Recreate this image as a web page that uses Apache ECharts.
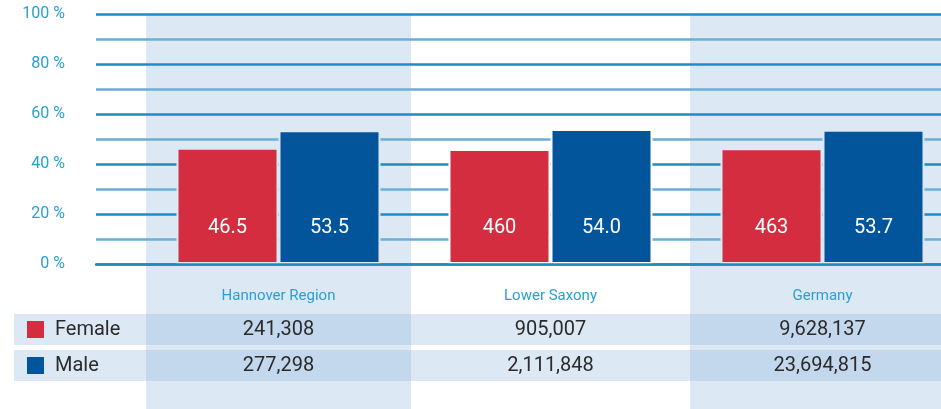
<!DOCTYPE html>
<html>
<head>
<meta charset="utf-8">
<script src="https://cdn.jsdelivr.net/npm/echarts@6/dist/echarts.min.js"></script>
<style>
html, body { margin: 0; padding: 0; background: #fff; }
#chart { width: 941px; height: 409px; }
</style>
</head>
<body>
<div id="chart"></div>
<script>
// data
var categories = ['Hannover Region', 'Lower Saxony', 'Germany'];
var femaleShare = [46.5, 46.0, 46.3];
var maleShare = [53.5, 54.0, 53.7];
// labels as printed in the bars
var femaleLabels = ['46.5', '460', '463'];
var maleLabels = ['53.5', '54.0', '53.7'];
var femaleCount = [241308, 905007, 9628137];
var maleCount = [277298, 2111848, 23694815];
var rows = ['Female', 'Male'];
var shaded = [true, false, true];
var yTicks = [0, 20, 40, 60, 80, 100];

var RED = '#d42d3f';
var BLUE = '#02559b';
var SHADE = '#dde8f5';
var FONT = 'Roboto';

function fmt(n) {
  return n.toLocaleString('en-US');
}

var chart = echarts.init(document.getElementById('chart'));

function barData(values) {
  return values.map(function (v, i) {
    return {
      value: v,
      itemStyle: { borderColor: shaded[i] ? SHADE : '#fff' }
    };
  });
}

chart.setOption({
  animation: false,
  textStyle: { fontFamily: FONT },
  grid: [
    { left: 142.5, width: 816, top: 14, height: 250, outerBoundsMode: 'none' },   // bars
    { left: 96, right: 0, top: 14, height: 250, outerBoundsMode: 'none' },        // lines + y labels
    { left: 142.5, width: 816, top: 311.5, height: 72, outerBoundsMode: 'none' }  // table
  ],
  xAxis: [
    {
      gridIndex: 0, type: 'category', data: categories,
      axisLine: { show: false }, axisTick: { show: false },
      axisLabel: { margin: 25, fontSize: 15, color: '#2a9fd1', fontFamily: FONT }
    },
    {
      gridIndex: 1, type: 'value', min: 0, max: 1, z: 5,
      axisLine: { show: true, onZero: false, lineStyle: { color: '#1a8cc6', width: 2.5 } },
      axisTick: { show: false }, axisLabel: { show: false }, splitLine: { show: false }
    },
    {
      gridIndex: 2, type: 'category', data: categories,
      axisLine: { show: false }, axisTick: { show: false }, axisLabel: { show: false }
    }
  ],
  yAxis: [
    {
      gridIndex: 0, type: 'value', min: 0, max: 100,
      axisLine: { show: false }, axisTick: { show: false },
      axisLabel: { show: false }, splitLine: { show: false }
    },
    {
      gridIndex: 1, type: 'value', min: 0, max: 100, interval: 10, z: 1,
      axisLine: { show: false }, axisTick: { show: false },
      axisLabel: {
        margin: 31, fontSize: 16, color: '#2a9fd1', fontFamily: FONT,
        padding: [4, 0, 0, 0],
        formatter: function (v) {
          return yTicks.indexOf(v) >= 0 ? v + ' %' : '';
        }
      },
      splitLine: { lineStyle: { color: ['#1a8cc6', '#6aaed8'], width: 2.5 } }
    },
    {
      gridIndex: 2, type: 'category', data: rows, inverse: true,
      axisLine: { show: false }, axisTick: { show: false }, axisLabel: { show: false }
    }
  ],
  series: [
    {
      // light column shading behind chart and table
      type: 'custom', xAxisIndex: 0, yAxisIndex: 0, z: 0, clip: false, silent: true,
      data: categories.map(function (c, i) { return [i, 100]; }).filter(function (d, i) { return shaded[i]; }),
      renderItem: function (params, api) {
        var p = api.coord([api.value(0), api.value(1)]);
        var w = api.size([1, 0])[0] * 0.974;
        return {
          type: 'rect',
          shape: { x: p[0] - w / 2, y: p[1], width: w, height: api.getHeight() - p[1] },
          style: { fill: SHADE }
        };
      }
    },
    {
      // table row bands
      type: 'custom', xAxisIndex: 2, yAxisIndex: 2, z: 0, clip: false, silent: true,
      data: rows.map(function (r, i) { return [0, i]; }),
      renderItem: function (params, api) {
        var p = api.coord([0, api.value(1)]);
        var h = api.size([0, 1])[1] - 5;
        return {
          type: 'rect',
          shape: { x: 14, y: p[1] - h / 2, width: api.getWidth() - 14, height: h },
          style: { fill: 'rgba(120,165,215,0.25)' }
        };
      }
    },
    {
      name: 'Female', type: 'bar', xAxisIndex: 0, yAxisIndex: 0,
      barWidth: 102, barGap: '0%',
      data: barData(femaleShare),
      itemStyle: { color: RED, borderWidth: 2 },
      label: {
        show: true, position: 'insideBottom', distance: 26,
        color: '#fff', fontSize: 20, fontFamily: FONT,
        formatter: function (p) { return femaleLabels[p.dataIndex]; }
      }
    },
    {
      name: 'Male', type: 'bar', xAxisIndex: 0, yAxisIndex: 0,
      barWidth: 102, barGap: '0%',
      data: barData(maleShare),
      itemStyle: { color: BLUE, borderWidth: 2 },
      label: {
        show: true, position: 'insideBottom', distance: 26,
        color: '#fff', fontSize: 20, fontFamily: FONT,
        formatter: function (p) { return maleLabels[p.dataIndex]; }
      }
    },
    {
      // table numbers
      type: 'custom', xAxisIndex: 2, yAxisIndex: 2, z: 3, clip: false, silent: true,
      data: [].concat(
        categories.map(function (c, i) { return [i, 0]; }),
        categories.map(function (c, i) { return [i, 1]; })
      ),
      renderItem: function (params, api) {
        var ci = api.value(0), ri = api.value(1);
        var p = api.coord([ci, ri]);
        var n = ri === 0 ? femaleCount[ci] : maleCount[ci];
        return {
          type: 'text',
          style: {
            x: p[0], y: p[1], text: fmt(n), fill: '#2b2b2b',
            font: '20px ' + FONT, textAlign: 'center', textVerticalAlign: 'middle'
          }
        };
      }
    },
    {
      // row legend: colour square + name
      type: 'custom', xAxisIndex: 2, yAxisIndex: 2, z: 3, clip: false, silent: true,
      data: rows.map(function (r, i) { return [0, i]; }),
      renderItem: function (params, api) {
        var ri = api.value(1);
        var y = api.coord([0, ri])[1];
        return {
          type: 'group',
          children: [
            { type: 'rect', shape: { x: 27, y: y - 8.5, width: 17, height: 17 },
              style: { fill: ri === 0 ? RED : BLUE } },
            { type: 'text', style: { x: 55, y: y, text: rows[ri], fill: '#2b2b2b',
              font: '20px ' + FONT, textAlign: 'left', textVerticalAlign: 'middle' } }
          ]
        };
      }
    }
  ]
});
</script>
</body>
</html>
